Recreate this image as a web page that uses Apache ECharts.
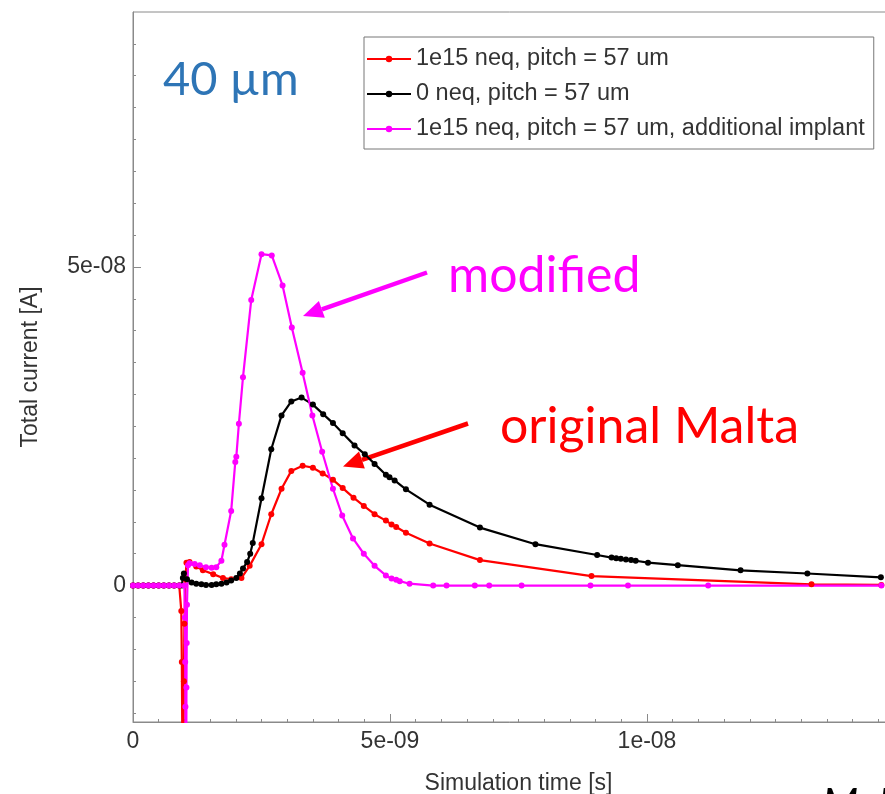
<!DOCTYPE html>
<html>
<head>
<meta charset="utf-8">
<script src="https://cdn.jsdelivr.net/npm/echarts@6/dist/echarts.min.js"></script>
<style>
  html, body { margin: 0; padding: 0; background: #fff; }
  #chart { width: 885px; height: 794px; }
</style>
</head>
<body>
<div id="chart"></div>
<script>
// time in ns, current in units of 1e-8 A
const redTime = [0, 0.1, 0.2, 0.3, 0.4, 0.5, 0.6, 0.7, 0.8, 0.9, 0.94, 0.95, 0.96, 0.97, 0.98, 0.99, 1.0, 1.02,
  1.04, 1.1, 1.23, 1.36, 1.56, 1.75, 1.91, 2.11, 2.27, 2.5, 2.69, 2.89, 3.08, 3.3, 3.5, 3.69, 3.89, 4.08,
  4.29, 4.49, 4.7, 4.92, 5.03, 5.12, 5.31, 5.77, 6.75, 8.92, 13.2, 14.56];
const redCurrent = [0, 0, 0, 0, 0, 0, 0, 0, 0, 0, -0.4, -1.2, -2.5, -4.0, -2.8, -1.5, -0.6, 0.1,
  0.36, 0.37, 0.30, 0.24, 0.18, 0.12, 0.10, 0.12, 0.31, 0.65, 1.12, 1.52, 1.80, 1.88, 1.85, 1.76, 1.66, 1.53,
  1.38, 1.25, 1.12, 1.02, 0.96, 0.92, 0.83, 0.66, 0.40, 0.15, 0.02, 0.01];

const blackTime = [0, 0.1, 0.2, 0.3, 0.4, 0.5, 0.6, 0.7, 0.8, 0.9, 0.95, 0.97, 0.99, 1.05, 1.14, 1.23, 1.33,
  1.42, 1.53, 1.62, 1.72, 1.82, 1.91, 2.01, 2.08, 2.14, 2.22, 2.28, 2.33, 2.5, 2.69, 2.89, 3.08, 3.28, 3.5,
  3.7, 3.89, 4.08, 4.31, 4.51, 4.7, 4.92, 4.99, 5.09, 5.31, 5.77, 6.75, 7.83, 9.03, 9.31, 9.4, 9.49, 9.59,
  9.69, 9.78, 10.02, 10.6, 11.82, 13.12, 14.55];
const blackCurrent = [0, 0, 0, 0, 0, 0, 0, 0, 0, 0, 0, 0.12, 0.19, 0.10, 0.05, 0.03, 0.02,
  0.01, 0.01, 0.02, 0.03, 0.05, 0.08, 0.12, 0.19, 0.27, 0.37, 0.50, 0.67, 1.37, 2.14, 2.67, 2.89, 2.95, 2.84,
  2.69, 2.55, 2.39, 2.20, 2.06, 1.91, 1.74, 1.70, 1.65, 1.51, 1.27, 0.91, 0.65, 0.48, 0.44, 0.43, 0.42, 0.41,
  0.40, 0.39, 0.36, 0.32, 0.24, 0.19, 0.13];

const magentaTime = [0, 0.1, 0.2, 0.3, 0.4, 0.5, 0.6, 0.7, 0.8, 0.9, 1.0, 1.01, 1.015, 1.02, 1.025, 1.03,
  1.035, 1.04, 1.045, 1.05, 1.07, 1.1, 1.2, 1.3, 1.42, 1.53, 1.62, 1.72, 1.78, 1.91, 1.99, 2.01, 2.06, 2.14,
  2.3, 2.5, 2.7, 2.91, 3.09, 3.3, 3.49, 3.68, 3.89, 4.07, 4.28, 4.49, 4.7, 4.92, 5.03, 5.12, 5.19, 5.38,
  5.84, 6.1, 6.65, 6.93, 7.56, 8.9, 9.63, 11.19, 14.56];
const magentaCurrent = [0, 0, 0, 0, 0, 0, 0, 0, 0, 0, 0, -0.5, -1.2, -1.9, -3.0, -4.5,
  -3.2, -1.6, -0.9, -0.3, 0.32, 0.35, 0.34, 0.32, 0.29, 0.28, 0.29, 0.39, 0.64, 1.17, 1.94, 2.02, 2.54, 3.27,
  4.48, 5.20, 5.18, 4.71, 4.05, 3.34, 2.67, 2.10, 1.52, 1.10, 0.74, 0.50, 0.31, 0.16, 0.11, 0.09, 0.07, 0.03,
  0, 0, 0, 0, 0, 0, 0, 0, 0];

const seriesNames = ['1e15 neq, pitch = 57 um', '0 neq, pitch = 57 um', '1e15 neq, pitch = 57 um, additional implant'];
const yMajorTicks = [0, 5];
const yMinorTicks = [-2, -1.5, -1, -0.5, 0.5, 1, 1.5, 2, 2.5, 3, 3.5, 4, 4.5, 5.5, 6, 6.5, 7, 7.5, 8, 8.5];

function sci(x) {
  if (x === 0) return '0';
  let e = Math.floor(Math.log10(Math.abs(x)) + 1e-9);
  let m = Math.round(x / Math.pow(10, e) * 100) / 100;
  let s = Math.abs(e) < 10 ? '0' + Math.abs(e) : '' + Math.abs(e);
  return m + 'e' + (e < 0 ? '-' : '+') + s;
}

function pairs(t, v) {
  return t.map((x, i) => [x, v[i]]);
}

// arrow from (x1,y1) to tip (x2,y2)
function arrow(x1, y1, x2, y2, color) {
  let dx = x2 - x1, dy = y2 - y1;
  let len = Math.sqrt(dx * dx + dy * dy);
  let ux = dx / len, uy = dy / len;
  let hl = 20, hw = 9;
  let bx = x2 - hl * ux, by = y2 - hl * uy;
  return [
    {type: 'line', shape: {x1: x1, y1: y1, x2: bx, y2: by}, style: {stroke: color, lineWidth: 4.5}},
    {type: 'polygon', shape: {points: [[x2, y2], [bx - hw * uy, by + hw * ux], [bx + hw * uy, by - hw * ux]]},
      style: {fill: color}}
  ];
}

let chart = echarts.init(document.getElementById('chart'));
let axisColor = '#8a8a8a';
let labelFont = {color: '#333', fontSize: 23, fontFamily: 'Liberation Sans'};

let option = {
  animation: false,
  backgroundColor: '#fff',
  grid: {
    left: 133, top: 12, right: -19, bottom: 72,
    outerBoundsMode: 'none',
    containLabel: false,
    show: true, borderColor: axisColor, borderWidth: 1
  },
  legend: {
    orient: 'vertical',
    left: 364, top: 37,
    data: seriesNames,
    itemWidth: 44, itemHeight: 8, itemGap: 11,
    padding: [10, 9, 8, 2],
    borderColor: '#777', borderWidth: 1,
    textStyle: {color: '#333', fontSize: 23.5, fontFamily: 'Liberation Sans'}
  },
  xAxis: {
    type: 'value',
    min: 0, max: 15, interval: 5,
    name: 'Simulation time [s]',
    nameLocation: 'middle', nameGap: 50,
    nameTextStyle: labelFont,
    axisLine: {onZero: false, lineStyle: {color: axisColor}},
    axisTick: {inside: true, length: 8, lineStyle: {color: axisColor}},
    minorTick: {show: true, splitNumber: 10, length: 3, lineStyle: {color: axisColor}},
    axisLabel: Object.assign({margin: 8, showMaxLabel: false, formatter: v => sci(v * 1e-9)}, labelFont),
    splitLine: {show: false}
  },
  yAxis: [{
    type: 'value',
    min: -2.14, max: 9,
    name: 'Total current [A]',
    nameLocation: 'middle', nameGap: 91,
    nameTextStyle: labelFont,
    axisLine: {onZero: false, lineStyle: {color: axisColor}},
    axisTick: {inside: true, length: 8, customValues: yMajorTicks, lineStyle: {color: axisColor}},
    axisLabel: Object.assign({margin: 7, customValues: yMajorTicks, formatter: v => sci(v * 1e-8)}, labelFont),
    splitLine: {show: false}
  }, {
    type: 'value',
    min: -2.14, max: 9,
    position: 'left',
    axisLine: {show: false},
    axisTick: {inside: true, length: 3, customValues: yMinorTicks, lineStyle: {color: axisColor}},
    axisLabel: {show: false},
    splitLine: {show: false}
  }],
  series: [
    {name: seriesNames[0], type: 'line', data: pairs(redTime, redCurrent), color: '#ff0000'},
    {name: seriesNames[1], type: 'line', data: pairs(blackTime, blackCurrent), color: '#000000'},
    {name: seriesNames[2], type: 'line', data: pairs(magentaTime, magentaCurrent), color: '#ff00ff'}
  ].map(s => Object.assign(s, {
    symbol: 'circle', symbolSize: 6, showSymbol: true, lineStyle: {width: 2.2}, z: 3
  })),
  graphic: [
    {type: 'text', left: 163, top: 56, style: {text: '40 µm', fill: '#2e75b6', font: '47px Lato'}},
    {type: 'text', left: 448, top: 251, style: {text: 'modified', fill: '#ff00ff', font: '50px Lato'}},
    {type: 'text', left: 500, top: 402, style: {text: 'original Malta', fill: '#ff0000', font: '50px Lato'}},
    {type: 'text', left: 822, top: 784, style: {text: 'M. M', fill: '#000', font: 'italic 42px Lato'}}
  ].concat(arrow(427, 272.5, 303, 316, '#ff00ff'), arrow(468, 423.5, 343, 466.5, '#ff0000'))
};

chart.setOption(option);
</script>
</body>
</html>
